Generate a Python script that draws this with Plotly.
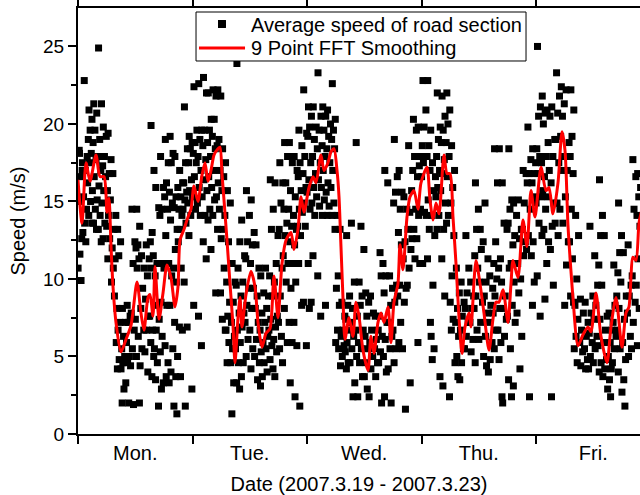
import plotly.graph_objects as go

# Hourly speed readings (m/s), one inner list per hour, starting Monday 00:00
monday = [
    [18.1, 17.5, 16.6, 15.0, 12.6, 11.6, 10.7, 9.9, 18.3, 17.0],
    [22.8, 17.9, 17.0, 15.3, 14.5, 13.6, 13.0, 12.4],
    [20.9, 20.3, 19.6, 19.0, 18.1, 17.5, 16.2, 15.0, 14.1, 13.6],
    [21.3, 20.7, 19.6, 18.8, 17.7, 16.6, 15.7, 14.5, 13.6, 13.2],
    [24.9, 21.3, 19.0, 17.9, 17.0, 16.0, 15.1, 14.1, 13.2, 12.4],
    [19.8, 19.2, 17.9, 17.3, 16.6, 15.7, 14.9, 13.6, 12.6],
    [19.4, 17.7, 16.8, 15.7, 15.1, 14.1, 13.4, 12.6, 11.3],
    [16.8, 14.1, 13.2, 12.0, 11.3, 10.7, 9.8, 8.9],
    [13.2, 12.4, 11.5, 8.1, 7.2, 6.7, 5.9, 4.8, 4.2],
    [8.1, 7.2, 6.3, 5.5, 5.0, 4.6, 4.2, 2.9, 2.0],
    [8.3, 7.6, 7.2, 5.9, 5.0, 4.6, 3.3, 2.0],
    [14.5, 12.4, 11.0, 7.8, 6.7, 5.5, 4.4, 1.9],
    [14.5, 13.4, 12.2, 12.0, 11.3, 10.7, 7.4, 6.3, 5.0, 2.0],
    [11.5, 10.7, 9.4, 8.1, 6.7, 5.5, 4.4],
    [12.2, 11.3, 10.2, 8.7, 7.6, 6.7, 5.3, 4.0],
    [19.9, 17.0, 13.0, 12.4, 11.5, 10.7, 7.6, 6.7, 5.9, 5.0, 3.7],
    [15.9, 14.6, 11.0, 10.2, 8.3, 6.7, 5.5, 4.6, 3.5, 1.8],
    [17.9, 15.9, 14.5, 14.1, 11.0, 8.5, 7.4, 6.3, 5.3, 3.3, 2.9],
    [19.0, 17.5, 16.2, 15.3, 14.5, 12.8, 10.7, 8.3, 5.7, 4.6, 3.7],
    [19.2, 18.1, 17.5, 15.6, 14.9, 13.8, 11.0, 10.2, 8.3, 5.5, 4.0, 3.3],
    [17.9, 15.9, 15.3, 14.6, 13.2, 11.9, 10.7, 9.8, 7.2, 5.0, 3.7, 1.8, 1.3],
    [17.0, 16.2, 15.3, 14.5, 14.1, 13.2, 12.4, 10.7, 6.9, 6.7, 3.7],
    [21.1, 18.4, 17.5, 16.2, 15.6, 15.1, 14.5, 13.6, 9.8, 6.9, 1.8],
    [19.2, 18.8, 18.4, 17.5, 16.4, 15.7, 14.9, 14.1, 12.8, 2.9],
]
tuesday = [
    [22.4, 19.6, 18.8, 18.1, 17.5, 16.6, 15.3, 14.5, 8.3],
    [22.6, 19.6, 19.0, 17.9, 17.0, 15.9, 14.9, 14.1, 7.6, 5.7],
    [23.0, 22.0, 19.6, 18.6, 17.7, 16.4, 15.3, 14.1, 12.4, 11.3],
    [22.0, 20.3, 19.6, 18.8, 17.9, 16.6, 15.7, 14.5, 13.8, 11.9],
    [22.2, 21.8, 20.3, 19.2, 18.4, 17.0, 15.9, 15.1, 14.1, 9.1],
    [22.2, 21.8, 19.0, 18.6, 17.0, 16.2, 15.3, 14.5, 13.2, 9.1],
    [18.4, 17.5, 16.6, 15.7, 14.1, 13.2, 12.6, 10.7, 7.4, 6.7],
    [15.7, 14.9, 12.4, 9.8, 8.5, 7.6, 6.7, 5.9, 4.6],
    [11.0, 9.8, 8.5, 7.2, 6.3, 5.5, 4.6, 3.3, 1.3],
    [23.9, 12.4, 10.7, 9.6, 7.8, 6.7, 5.5, 4.6, 3.3, 2.9],
    [13.8, 11.5, 9.8, 8.9, 7.8, 6.9, 5.9, 4.6, 3.7],
    [15.7, 14.1, 12.4, 11.3, 9.4, 8.3, 7.2, 6.1, 5.0],
    [15.1, 13.0, 12.2, 11.0, 9.4, 8.1, 6.7, 5.5, 4.2],
    [12.2, 10.7, 8.9, 8.1, 7.2, 6.1, 5.0, 3.5],
    [10.2, 9.1, 7.8, 6.7, 5.9, 5.3, 4.6, 3.7, 3.1],
    [10.7, 8.9, 8.1, 7.2, 6.3, 5.5, 4.6, 4.0],
    [16.4, 14.5, 13.2, 10.2, 8.9, 7.4, 6.7, 5.7, 4.8, 4.2],
    [16.2, 12.8, 11.0, 9.8, 7.6, 6.9, 6.1, 5.3, 3.7],
    [17.5, 16.2, 14.9, 13.2, 10.7, 8.9, 7.2, 6.3, 5.5, 4.6],
    [18.8, 17.9, 16.2, 14.5, 13.6, 12.8, 11.5, 9.8, 8.1, 5.9],
    [18.8, 17.5, 15.7, 14.5, 13.4, 12.4, 11.0, 9.4, 7.2, 5.9, 3.3],
    [17.9, 17.0, 15.3, 14.1, 13.2, 12.2, 11.0, 9.8, 7.2, 5.7, 2.4],
    [19.6, 18.6, 17.5, 16.6, 15.7, 14.5, 13.4, 12.8, 11.0, 8.3, 1.8],
    [22.2, 19.4, 17.9, 16.8, 15.9, 14.9, 14.3, 13.4, 8.5, 5.7],
]
wednesday = [
    [21.1, 20.5, 19.8, 19.2, 17.5, 16.4, 15.6, 14.5, 11.0, 8.5, 8.1],
    [21.1, 19.8, 19.0, 17.9, 16.8, 15.9, 14.9, 14.1, 11.5],
    [23.3, 20.5, 19.6, 18.4, 17.5, 16.4, 15.3, 14.7, 10.2, 7.6],
    [21.1, 20.5, 19.6, 18.6, 17.9, 17.0, 15.9, 15.1, 14.1, 8.3],
    [20.9, 20.0, 19.2, 18.4, 17.5, 16.2, 15.6, 14.7, 14.1],
    [22.6, 20.3, 19.6, 19.0, 18.4, 17.0, 15.9, 14.9, 14.1, 13.2],
    [14.1, 13.2, 10.2, 9.4, 8.3, 6.7, 5.9, 5.5],
    [8.5, 7.6, 6.7, 6.3, 5.7, 5.0, 4.4],
    [12.8, 8.9, 8.3, 7.4, 6.7, 5.9, 5.3, 4.6, 4.2],
    [13.6, 9.8, 8.1, 7.2, 6.3, 5.5, 4.6, 2.4],
    [18.8, 9.8, 7.6, 6.7, 5.9, 5.0, 3.3, 2.4],
    [13.4, 11.9, 8.9, 8.3, 6.7, 5.5, 4.6, 3.7],
    [9.1, 8.5, 7.6, 6.3, 5.5, 4.6, 3.7, 2.9],
    [8.9, 7.8, 6.7, 5.9, 5.0, 4.2, 2.4],
    [7.6, 6.7, 6.1, 5.5, 4.6, 3.7],
    [11.7, 11.0, 10.2, 7.6, 6.3, 5.3, 4.6, 2.0],
    [17.0, 16.2, 10.2, 9.1, 7.2, 6.1, 5.0, 4.0, 2.4],
    [10.2, 9.4, 8.3, 7.2, 6.3, 5.5, 4.2, 2.0],
    [19.0, 16.6, 15.6, 14.9, 9.6, 8.5, 6.7, 5.5, 4.6],
    [17.0, 15.6, 14.5, 13.0, 12.2, 9.6, 8.9, 7.2, 5.9],
    [15.3, 14.5, 12.4, 11.3, 9.4, 8.5, 5.5, 1.6],
    [18.6, 15.7, 14.3, 13.2, 11.9, 10.7, 9.6, 3.3],
    [20.3, 19.6, 17.9, 17.0, 14.5, 13.2, 12.6, 11.3],
    [19.8, 17.9, 17.3, 16.6, 14.5, 14.1, 12.6, 11.0, 5.9],
]
thursday = [
    [22.8, 20.9, 19.8, 18.6, 17.9, 17.5, 16.6, 14.3, 11.0],
    [22.8, 19.6, 18.6, 17.9, 17.0, 15.1, 14.1, 13.2, 11.3, 7.2],
    [17.5, 16.6, 15.7, 14.1, 12.8, 9.6, 6.3, 5.5, 4.8],
    [22.0, 19.8, 19.0, 17.9, 17.0, 15.9, 15.3, 14.1, 13.2, 3.7],
    [21.8, 20.5, 19.6, 18.8, 17.7, 16.8, 15.7, 13.2, 11.3, 8.9, 3.1],
    [22.0, 20.9, 20.0, 18.8, 17.9, 16.6, 14.9, 14.1, 13.6, 2.4],
    [18.6, 17.0, 15.9, 14.9, 12.8, 10.2, 8.5, 7.4, 6.7],
    [10.7, 9.1, 8.1, 7.2, 6.3, 5.0, 4.6, 3.7],
    [9.8, 8.5, 7.6, 6.7, 5.5, 4.6, 3.5],
    [12.8, 10.7, 9.1, 8.1, 7.2, 6.3, 5.5],
    [9.8, 8.9, 8.1, 7.2, 6.1, 5.3],
    [16.2, 14.5, 13.2, 11.5, 10.7, 8.9, 8.1, 6.7, 4.6],
    [13.2, 12.4, 11.9, 9.8, 8.5, 7.2, 6.1],
    [14.9, 11.3, 9.8, 8.9, 7.8, 6.3, 5.0, 4.4],
    [10.2, 9.4, 8.3, 7.2, 5.9, 4.8, 4.0],
    [18.4, 16.2, 12.4, 11.0, 10.0, 8.9, 7.8, 6.7, 5.5],
    [18.4, 16.2, 11.3, 10.7, 9.8, 8.1, 6.7, 5.9, 4.8, 2.4],
    [13.6, 13.2, 8.9, 8.1, 7.4, 6.3, 2.0],
    [18.4, 15.1, 14.5, 13.6, 11.0, 10.7, 7.6, 5.5, 3.5, 2.4],
    [14.9, 14.1, 12.8, 12.2, 11.0, 9.8, 8.3, 7.2, 3.1],
    [15.1, 13.2, 12.6, 11.0, 10.0, 9.1, 7.8, 4.2],
    [17.0, 16.8, 14.9, 13.2, 12.4, 11.5, 6.3],
    [19.8, 17.7, 16.8, 16.2, 14.5, 12.8, 11.9, 2.4],
    [18.4, 17.5, 16.8, 16.2, 15.3, 12.4, 11.5, 9.8, 8.3],
]
friday = [
    [25.0, 21.1, 20.5, 18.4, 17.9, 16.8, 14.9, 13.6, 10.2, 7.6],
    [21.8, 20.7, 20.0, 17.5, 16.6, 15.7, 15.3, 13.2, 12.8, 8.7],
    [20.9, 20.5, 18.8, 17.9, 17.0, 15.3, 14.5, 12.4, 11.0],
    [21.1, 19.0, 17.9, 16.2, 14.9, 13.4, 11.9, 9.6, 2.4],
    [23.3, 21.8, 20.7, 19.0, 17.5, 14.9, 13.6, 12.8],
    [22.4, 21.3, 20.5, 19.2, 17.9, 17.0, 14.5, 13.6],
    [22.2, 18.8, 17.0, 15.3, 12.4, 10.9, 8.3],
    [22.2, 20.9, 19.2, 17.9, 16.8, 14.5, 12.4, 11.3, 8.9, 8.5],
    [14.1, 12.8, 10.0, 8.3, 7.4, 6.3, 5.5, 4.6],
    [8.7, 7.8, 6.7, 5.9, 5.3, 4.4],
    [8.5, 7.2, 6.3, 5.5, 4.8, 4.2],
    [13.4, 8.9, 7.8, 6.5, 5.9, 5.0, 4.2],
    [11.5, 9.6, 8.3, 7.4, 6.3, 5.5, 4.6],
    [16.4, 14.1, 12.8, 10.9, 9.6, 7.4, 5.7, 4.6, 4.0],
    [12.8, 7.6, 6.7, 5.9, 4.8, 4.2, 3.7],
    [7.8, 6.7, 5.9, 5.0, 4.2, 3.5, 2.9, 2.4],
    [10.9, 8.9, 8.3, 7.2, 6.3, 5.5, 4.6],
    [14.9, 12.8, 11.7, 10.4, 9.8, 8.1, 6.7, 5.5, 4.0],
    [11.7, 8.9, 7.4, 5.9, 4.8, 3.5, 2.7, 1.8],
    [12.2, 9.6, 8.9, 7.8, 6.3, 5.0],
    [17.7, 16.6, 14.5, 10.2, 8.5, 7.2, 5.5],
    [16.8, 15.9, 15.3, 14.1, 13.4, 11.3, 9.6, 8.1, 5.7],
]

# 9-point FFT smoothed curve (hours since Monday 00:00, m/s)
smooth_hours = [
    0.00, 0.84, 1.68, 2.52, 3.77, 4.61, 5.45, 6.08, 6.50, 6.92,
    7.34, 7.96, 9.01, 10.06, 11.11, 12.37, 13.20, 13.83, 14.67, 15.09,
    15.72, 16.14, 16.98, 17.82, 18.65, 19.49, 20.33, 20.96, 21.38, 22.22,
    23.06, 23.68, 24.31, 25.15, 25.99, 26.62, 27.25, 27.88, 28.51, 29.34,
    29.76, 30.18, 30.60, 31.23, 31.86, 32.49, 32.91, 33.54, 33.96, 34.37,
    35.21, 36.26, 37.10, 37.73, 38.57, 39.40, 40.24, 41.08, 41.92, 42.76,
    43.60, 44.64, 45.27, 46.11, 46.74, 47.37, 48.42, 49.26, 49.88, 50.93,
    51.56, 52.40, 53.03, 53.66, 54.29, 54.71, 55.12, 55.54, 55.96, 56.80,
    57.64, 58.27, 58.90, 59.74, 60.78, 61.41, 62.04, 62.88, 63.51, 64.14,
    64.98, 65.60, 66.23, 67.07, 67.49, 68.12, 68.96, 69.59, 70.43, 71.26,
    71.89, 73.15, 73.78, 74.41, 75.04, 75.67, 76.71, 77.34, 77.97, 78.60,
    79.23, 79.86, 80.49, 81.12, 81.95, 82.37, 83.42, 84.26, 85.10, 86.15,
    86.98, 87.61, 88.24, 89.08, 90.13, 90.76, 91.18, 92.22, 93.27, 94.11,
    94.95, 95.79, 97.05, 98.09, 98.72, 99.56, 100.61, 101.45, 102.08, 102.70,
    103.33, 103.75, 104.80, 105.85, 106.89, 107.52, 108.57, 109.62, 110.88, 111.72,
    112.76, 114.02, 114.86, 115.49, 116.33, 116.96, 117.59, 118.22,
]
smooth_speed = [
    16.4, 13.6, 17.5, 16.3, 18.0, 16.6, 16.6, 14.3, 15.2, 12.1,
    9.5, 7.2, 5.3, 6.1, 7.0, 9.8, 7.8, 6.7, 8.8, 9.0,
    7.6, 10.8, 7.4, 9.1, 10.9, 10.1, 8.2, 9.5, 12.5, 13.2,
    14.0, 14.5, 16.0, 15.0, 16.7, 17.5, 16.3, 17.0, 18.0, 18.4,
    18.5, 16.8, 15.1, 12.5, 9.7, 7.0, 4.6, 7.5, 8.8, 6.9,
    9.0, 10.5, 9.5, 7.2, 5.6, 6.5, 6.8, 10.2, 7.5, 11.0,
    12.5, 13.0, 11.9, 13.2, 15.3, 14.3, 15.9, 16.6, 16.2, 18.0,
    17.0, 17.5, 18.2, 18.4, 17.0, 15.3, 12.1, 8.8, 6.1, 7.5,
    6.3, 8.5, 7.6, 5.4, 4.1, 6.3, 5.2, 7.2, 7.8, 7.2,
    8.2, 5.9, 8.5, 9.7, 12.2, 10.6, 14.0, 15.3, 15.7, 14.5,
    16.2, 17.2, 15.1, 13.8, 14.9, 14.2, 18.0, 16.8, 16.8, 14.0,
    11.0, 7.5, 5.2, 6.9, 7.8, 6.9, 11.2, 9.7, 7.8, 5.4,
    7.4, 8.5, 8.5, 9.3, 7.2, 9.7, 11.2, 10.1, 13.8, 12.1,
    15.7, 14.0, 17.2, 15.7, 15.9, 14.2, 16.2, 19.5, 18.3, 13.5,
    10.5, 8.8, 5.7, 6.4, 6.9, 6.6, 9.1, 6.3, 4.6, 6.9,
    8.8, 5.6, 7.8, 8.2, 11.4, 11.2, 13.6, 14.5,
]

day_labels = ["Mon.", "Tue.", "Wed.", "Thu.", "Fri."]
day_centers = [12, 36, 60, 84, 108]
day_bounds = [0, 24, 48, 72, 96]

scatter_name = "Average speed of road section"
line_name = "9 Point FFT Smoothing"

# Sampling times: each hour's readings are placed at well-spread minutes of that hour
times, speeds = [], []
hour = 0
for day in (monday, tuesday, wednesday, thursday, friday):
    for readings in day:
        for i, v in enumerate(readings):
            times.append(hour + (0.31 + i * 0.618034) % 1.0)
            speeds.append(v)
        hour += 1

FONT = "Liberation Sans, Arial, sans-serif"
X_MAX = 117.8
Y_MAX = 27.48

fig = go.Figure()
fig.add_trace(go.Scatter(
    x=times, y=speeds, mode="markers", name=scatter_name, showlegend=False,
    marker=dict(symbol="square", size=7, color="black", line=dict(width=0)),
))
fig.add_trace(go.Scatter(
    x=smooth_hours, y=smooth_speed, mode="lines", name=line_name, showlegend=False,
    line=dict(color="#ff0000", width=3, shape="spline", smoothing=0.7),
))

# Boxed legend in the upper part of the plot area
legend_shapes = [
    dict(type="rect", xref="paper", yref="paper", x0=0.2100, x1=0.7972,
         y0=0.8756, y1=0.9906, fillcolor="white",
         line=dict(color="black", width=1), layer="above"),
    dict(type="rect", xref="paper", yref="paper", x0=0.2491, x1=0.2633,
         y0=0.9531, y1=0.9718, fillcolor="black",
         line=dict(width=0), layer="above"),
    dict(type="line", xref="paper", yref="paper", x0=0.2153, x1=0.2972,
         y0=0.9061, y1=0.9061, line=dict(color="#ff0000", width=3),
         layer="above"),
]
legend_texts = [
    dict(xref="paper", yref="paper", x=0.3050, y=0.9601, text=scatter_name,
         showarrow=False, xanchor="left", yanchor="middle",
         font=dict(family=FONT, size=20, color="black")),
    dict(xref="paper", yref="paper", x=0.3050, y=0.9061, text=line_name,
         showarrow=False, xanchor="left", yanchor="middle",
         font=dict(family=FONT, size=20, color="black")),
]

fig.update_layout(
    width=640, height=495,
    margin=dict(l=78, r=0, t=8, b=61),
    paper_bgcolor="white", plot_bgcolor="white",
    font=dict(family=FONT, color="black", size=19),
    showlegend=False,
    shapes=legend_shapes,
    annotations=legend_texts,
    xaxis=dict(
        range=[0, X_MAX],
        showline=True, linecolor="black", linewidth=2, mirror="ticks",
        showgrid=False, zeroline=False,
        tickmode="array", tickvals=day_centers, ticktext=day_labels,
        ticks="", tickfont=dict(size=20),
        minor=dict(tickmode="array", tickvals=day_bounds, ticks="outside",
                   ticklen=8, tickwidth=2, tickcolor="black", showgrid=False),
        title=dict(text="Date (2007.3.19 - 2007.3.23)",
                   font=dict(size=20), standoff=14),
    ),
    yaxis=dict(
        range=[0, Y_MAX],
        showline=True, linecolor="black", linewidth=2,
        showgrid=False, zeroline=False,
        tick0=0, dtick=5, ticks="outside", ticklen=8, tickwidth=2,
        tickcolor="black", tickfont=dict(size=19),
        minor=dict(dtick=2.5, ticks="outside", ticklen=5, tickwidth=2,
                   tickcolor="black", showgrid=False),
        title=dict(text="Speed (m/s)", font=dict(size=20), standoff=12),
    ),
)

fig.write_html("out.html")
